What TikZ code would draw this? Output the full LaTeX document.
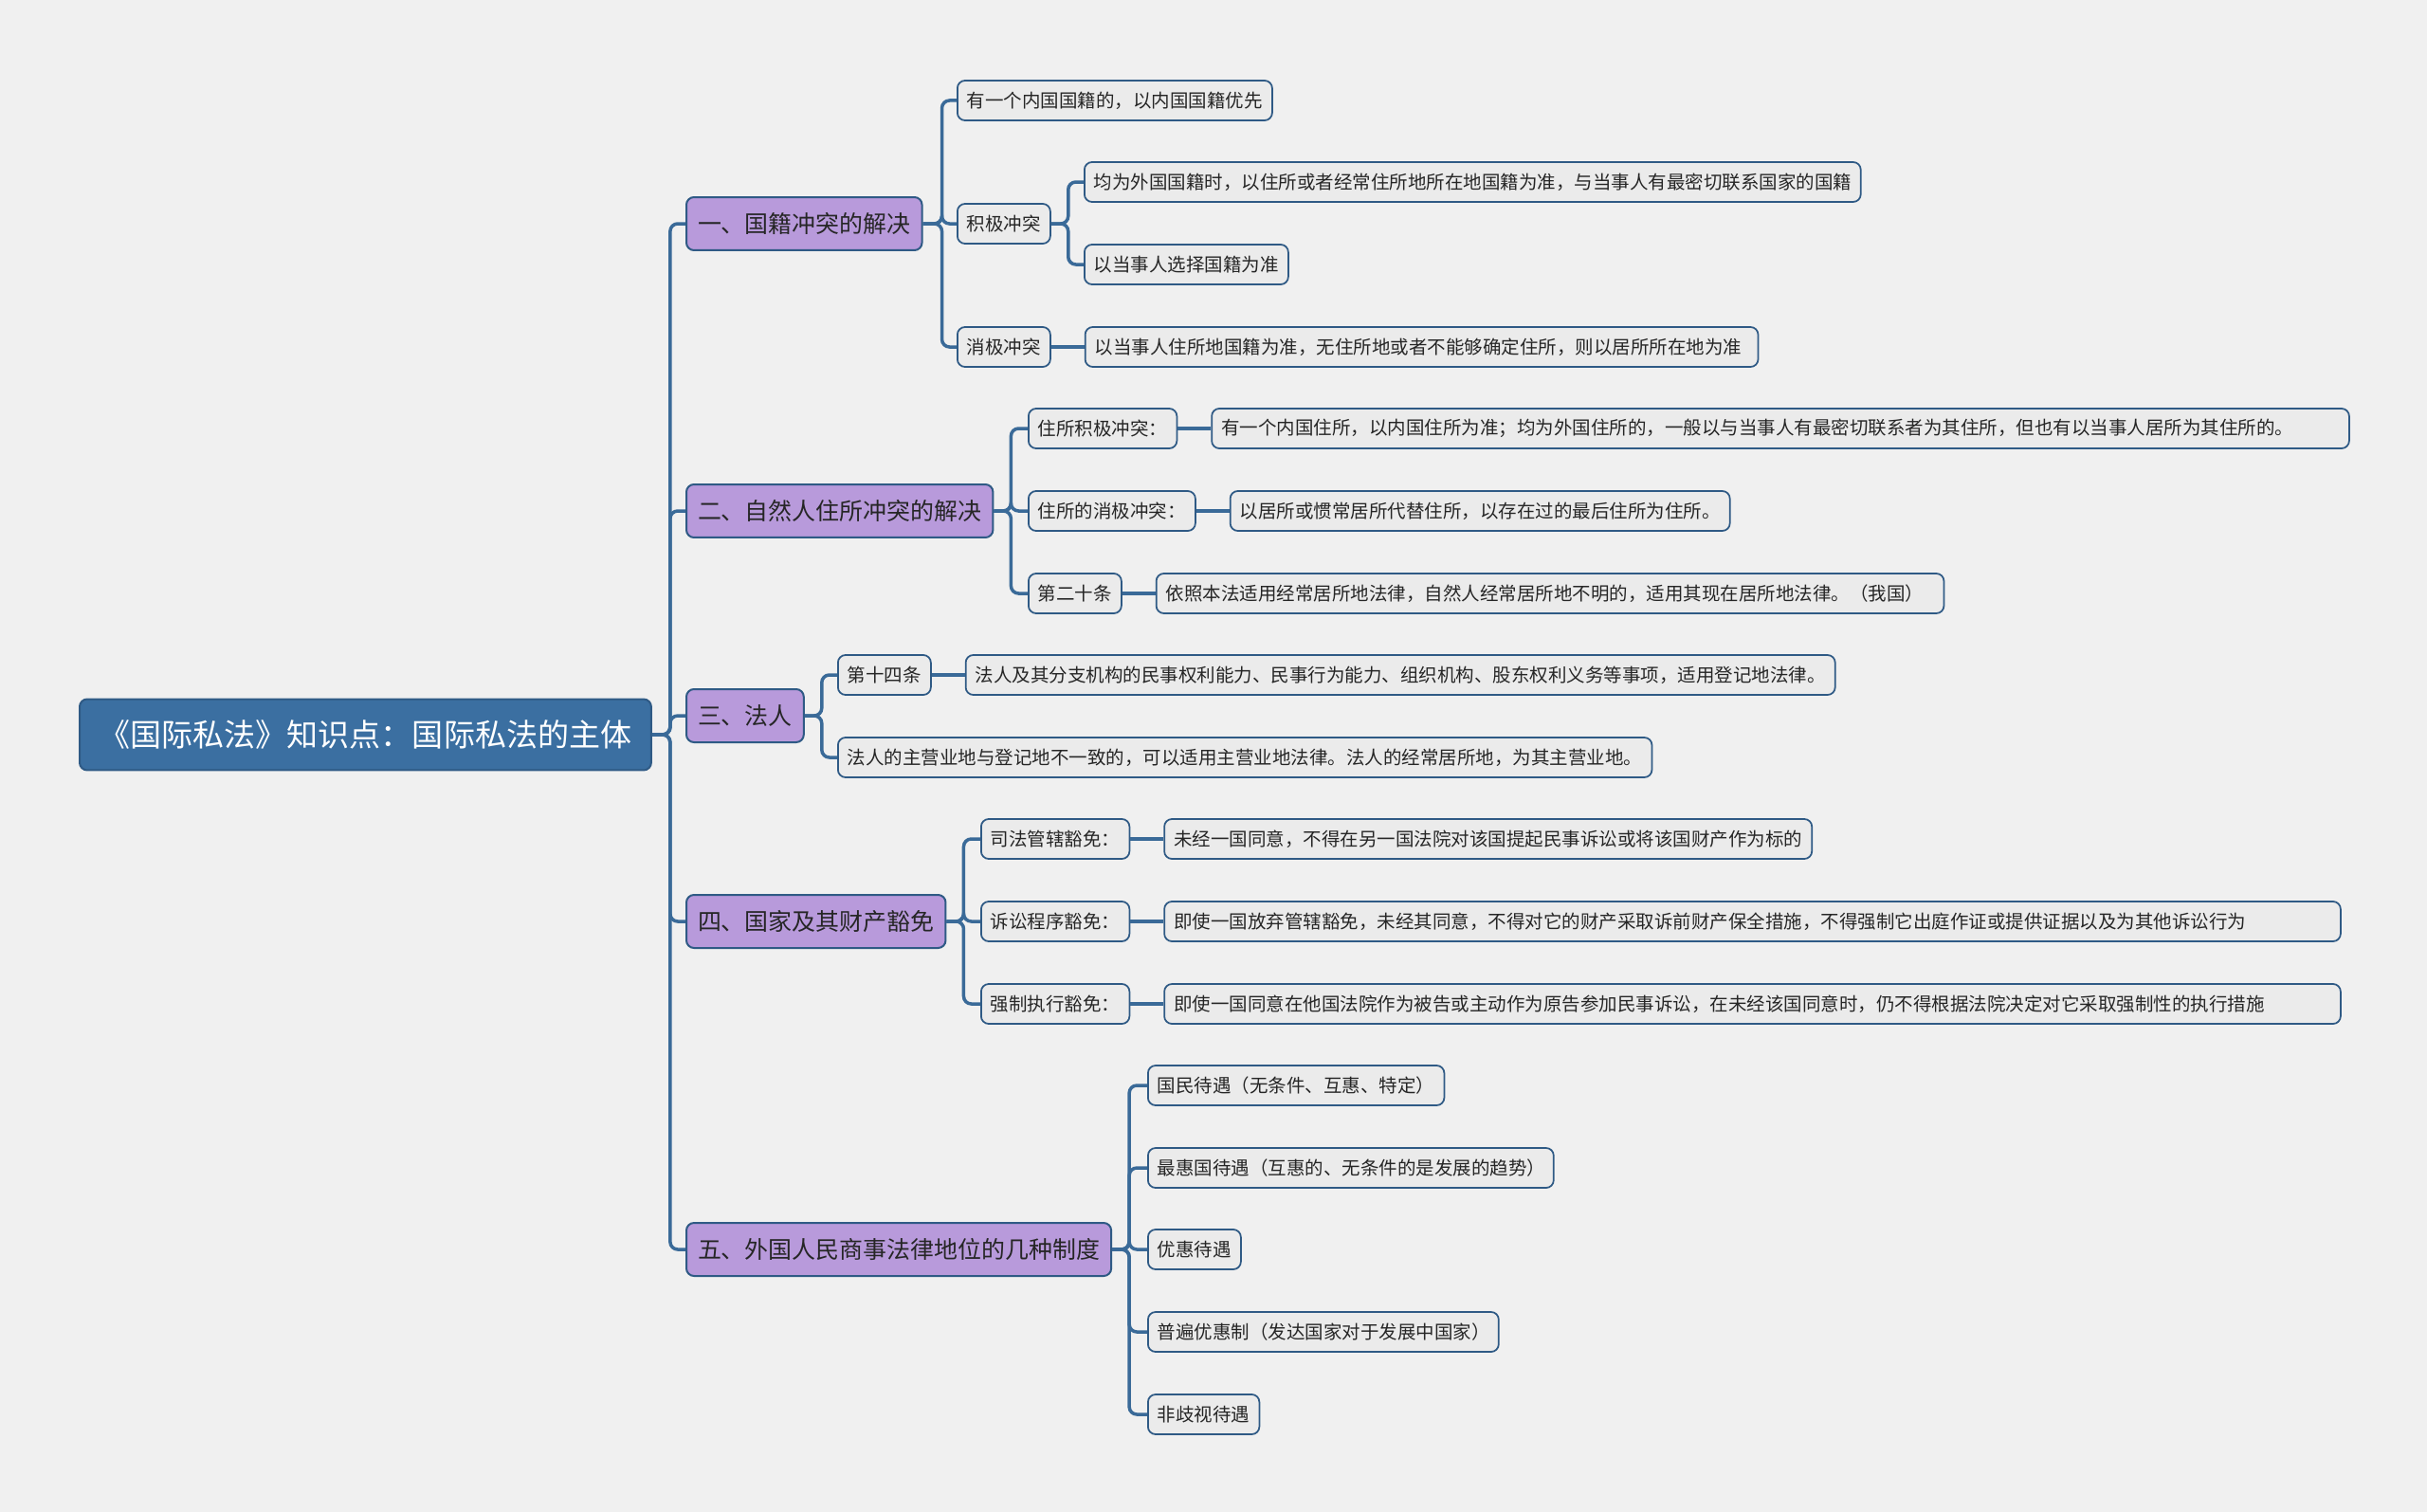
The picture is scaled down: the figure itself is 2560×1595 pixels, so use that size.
\documentclass[tikz,border=0pt]{standalone}
\usepackage{fontspec}
\setmainfont{Noto Sans CJK SC}
\usetikzlibrary{positioning}
\definecolor{bgcol}{HTML}{F0F0F0}
\definecolor{rootcol}{HTML}{3B6FA1}
\definecolor{edgecol}{HTML}{2F5A85}
\definecolor{linkcol}{HTML}{3A6A98}
\definecolor{topiccol}{HTML}{B89ADB}
\definecolor{leafcol}{HTML}{EBEBEB}
\definecolor{inkcol}{HTML}{262626}

\begin{document}
\begin{tikzpicture}[x=0.02cm,y=-0.02cm,
  every node/.style={anchor=west,inner ysep=0pt,text=inkcol},
  root/.style={draw=edgecol,fill=rootcol,text=white,rounded corners=0.16cm,line width=0.04cm,
    minimum width=12.06cm,minimum height=1.5cm,font=\fontsize{18.8}{20}\selectfont},
  topic/.style={draw=edgecol,fill=topiccol,rounded corners=0.16cm,line width=0.04cm,
    inner xsep=0.24cm,minimum height=1.12cm,font=\fontsize{14.2}{16}\selectfont},
  leaf/.style={draw=edgecol,fill=leafcol,rounded corners=0.16cm,line width=0.035cm,
    inner xsep=0.2cm,minimum height=0.84cm,font=\fontsize{11.1}{13}\selectfont,align=left},
  link/.style={draw=linkcol,line width=0.07cm,rounded corners=0.16cm},
  node distance=0.7cm]
\fill[bgcol] (0,0) rectangle (2560,1595);

\node[root] (root) at (83,775) {《国际私法》知识点：国际私法的主体};

\node[topic] (n1) at (723,236) {一、国籍冲突的解决};
\node[topic] (n2) at (723,539) {二、自然人住所冲突的解决};
\node[topic] (n3) at (723,755) {三、法人};
\node[topic] (n4) at (723,972) {四、国家及其财产豁免};
\node[topic] (n5) at (723,1318) {五、外国人民商事法律地位的几种制度};

\node[leaf] (n1a) at (1009,106) {有一个内国国籍的，以内国国籍优先};
\node[leaf] (n1b) at (1009,236) {积极冲突};
\node[leaf] (n1c) at (1009,366) {消极冲突};
\node[leaf,text width=15.98cm] (n1b1) at (1143,192) {均为外国国籍时，以住所或者经常住所地所在地国籍为准，与当事人有最密切联系国家的国籍};
\node[leaf] (n1b2) at (1143,279) {以当事人选择国籍为准};
\node[leaf,text width=13.8cm,right=of n1c] (n1c1) {以当事人住所地国籍为准，无住所地或者不能够确定住所，则以居所所在地为准};

\node[leaf] (n2a) at (1084,452) {住所积极冲突：};
\node[leaf] (n2b) at (1084,539) {住所的消极冲突：};
\node[leaf] (n2c) at (1084,626) {第二十条};
\node[leaf,text width=23.6cm,right=of n2a] (n2a1) {有一个内国住所，以内国住所为准；均为外国住所的，一般以与当事人有最密切联系者为其住所，但也有以当事人居所为其住所的。};
\node[leaf,right=of n2b] (n2b1) {以居所或惯常居所代替住所，以存在过的最后住所为住所。};
\node[leaf,text width=16.22cm,right=of n2c] (n2c1) {依照本法适用经常居所地法律，自然人经常居所地不明的，适用其现在居所地法律。（我国）};

\node[leaf] (n3a) at (883,712) {第十四条};
\node[leaf,right=of n3a] (n3a1) {法人及其分支机构的民事权利能力、民事行为能力、组织机构、股东权利义务等事项，适用登记地法律。};
\node[leaf] (n3b) at (883,799) {法人的主营业地与登记地不一致的，可以适用主营业地法律。法人的经常居所地，为其主营业地。};

\node[leaf] (n4a) at (1034,885) {司法管辖豁免：};
\node[leaf] (n4b) at (1034,972) {诉讼程序豁免：};
\node[leaf] (n4c) at (1034,1059) {强制执行豁免：};
\node[leaf,right=of n4a] (n4a1) {未经一国同意，不得在另一国法院对该国提起民事诉讼或将该国财产作为标的};
\node[leaf,text width=24.42cm,right=of n4b] (n4b1) {即使一国放弃管辖豁免，未经其同意，不得对它的财产采取诉前财产保全措施，不得强制它出庭作证或提供证据以及为其他诉讼行为};
\node[leaf,text width=24.42cm,right=of n4c] (n4c1) {即使一国同意在他国法院作为被告或主动作为原告参加民事诉讼，在未经该国同意时，仍不得根据法院决定对它采取强制性的执行措施};

\node[leaf] (n5a) at (1210,1145) {国民待遇（无条件、互惠、特定）};
\node[leaf,text width=8.16cm] (n5b) at (1210,1232) {最惠国待遇（互惠的、无条件的是发展的趋势）};
\node[leaf] (n5c) at (1210,1318) {优惠待遇};
\node[leaf,text width=7.0cm] (n5d) at (1210,1405) {普遍优惠制（发达国家对于发展中国家）};
\node[leaf] (n5e) at (1210,1492) {非歧视待遇};

\foreach \c in {n1,n2,n3,n4,n5}
  \draw[link] (root.east) -- ++(19,0) |- (\c.west);
\foreach \c in {n1a,n1b,n1c}
  \draw[link] (n1.east) -- ++(20,0) |- (\c.west);
\foreach \c in {n1b1,n1b2}
  \draw[link] (n1b.east) -- ++(18,0) |- (\c.west);
\foreach \c in {n2a,n2b,n2c}
  \draw[link] (n2.east) -- ++(18,0) |- (\c.west);
\foreach \c in {n3a,n3b}
  \draw[link] (n3.east) -- ++(18,0) |- (\c.west);
\foreach \c in {n4a,n4b,n4c}
  \draw[link] (n4.east) -- ++(18,0) |- (\c.west);
\foreach \c in {n5a,n5b,n5c,n5d,n5e}
  \draw[link] (n5.east) -- ++(18,0) |- (\c.west);
\foreach \p in {n1c,n2a,n2b,n2c,n3a,n4a,n4b,n4c}
  \draw[link] (\p.east) -- (\p1.west);
\end{tikzpicture}
\end{document}
